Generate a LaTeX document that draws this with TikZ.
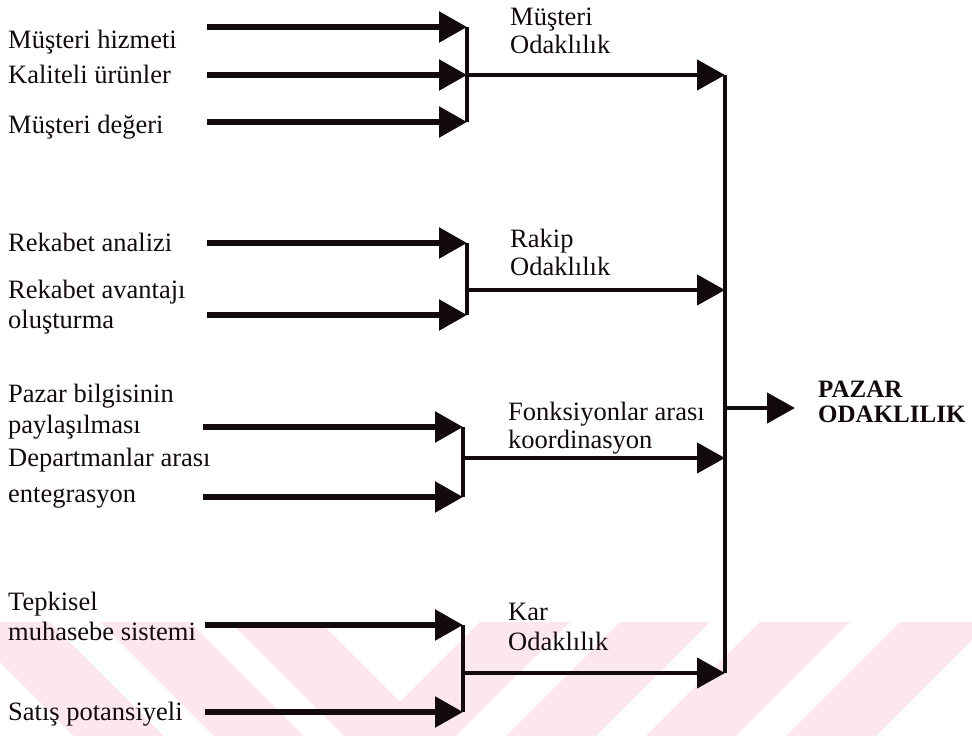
\documentclass[tikz,border=0pt]{standalone}
\usepackage{fontspec}
\setmainfont{Liberation Serif}
\usetikzlibrary{arrows.meta}
\definecolor{ink}{HTML}{120A0C}
\definecolor{wmpink}{HTML}{FCE8EC}
\begin{document}
\begin{tikzpicture}[x=1pt,y=-1pt,
  lbl/.style={anchor=base west, inner sep=0pt, text=ink, font=\fontsize{26.5}{30}\selectfont},
  goal/.style={anchor=base west, inner sep=0pt, text=ink, font=\fontsize{25}{30}\selectfont\bfseries},
  feed/.style={draw=ink, line width=5.5pt, -{Triangle[length=28pt,width=30pt]}},
  outarrow/.style={draw=ink, line width=4.5pt, -{Triangle[length=28pt,width=30pt]}},
  joinbar/.style={draw=ink, line width=4.5pt}]
\useasboundingbox (0,0) rectangle (972,736);

% pale background stripes along the lower edge
\begin{scope}
  \clip (0,622) rectangle (972,736);
  \foreach \t in {-40,100,230} {
    \fill[wmpink] (\t,622) -- (\t+90,622) -- (\t+204,736) -- (\t+114,736) -- cycle;
  }
  \foreach \t in {480,620,760,900} {
    \fill[wmpink] (\t,622) -- (\t+90,622) -- (\t-24,736) -- (\t-114,736) -- cycle;
  }
\end{scope}

% ---------- junction points ----------
\coordinate (g1a) at (467,27);  \coordinate (g1b) at (467,75);  \coordinate (g1c) at (467,122);
\coordinate (g2a) at (467,243); \coordinate (g2m) at (467,290); \coordinate (g2b) at (467,315);
\coordinate (g3a) at (463,427); \coordinate (g3m) at (463,458); \coordinate (g3b) at (463,497);
\coordinate (g4a) at (463,625); \coordinate (g4m) at (463,673); \coordinate (g4b) at (463,712);

\coordinate (s1a) at (207,27);  \coordinate (s1b) at (207,75);  \coordinate (s1c) at (207,122);
\coordinate (s2a) at (207,243); \coordinate (s2b) at (207,315);
\coordinate (s3a) at (203,427); \coordinate (s3b) at (203,497);
\coordinate (s4a) at (205,625); \coordinate (s4b) at (205,712);

\coordinate (m1) at (725,75);
\coordinate (m2) at (725,290);
\coordinate (m3) at (725,458);
\coordinate (m4) at (725,673);
\coordinate (mp) at (725,408);
\coordinate (tp) at (795,408);

% ---------- input labels ----------
\node[lbl] (i1a) at (8,48)  {Müşteri hizmeti};
\node[lbl] (i1b) at (8,83)  {Kaliteli ürünler};
\node[lbl] (i1c) at (8,133) {Müşteri değeri};

\node[lbl] (i2a) at (8,251) {Rekabet analizi};
\node[lbl] (i2b) at (8,298) {Rekabet avantajı};
\node[lbl] (i2c) at (8,328) {oluşturma};

\node[lbl] (i3a) at (8,402) {Pazar bilgisinin};
\node[lbl] (i3b) at (8,433) {paylaşılması};
\node[lbl] (i3c) at (8,466) {Departmanlar arası};
\node[lbl] (i3d) at (8,502) {entegrasyon};

\node[lbl] (i4a) at (8,610) {Tepkisel};
\node[lbl] (i4b) at (8,640) {muhasebe sistemi};
\node[lbl] (i4c) at (8,720) {Satış potansiyeli};

% ---------- intermediate labels ----------
\node[lbl] (o1a) at (510,25)  {Müşteri};
\node[lbl] (o1b) at (510,53)  {Odaklılık};
\node[lbl] (o2a) at (510,247) {Rakip};
\node[lbl] (o2b) at (510,275) {Odaklılık};
\node[lbl] (o3a) at (508,420) {Fonksiyonlar arası};
\node[lbl] (o3b) at (508,448) {koordinasyon};
\node[lbl] (o4a) at (508,620) {Kar};
\node[lbl] (o4b) at (508,650) {Odaklılık};

% ---------- result ----------
\node[goal] (r1) at (818,397) {PAZAR};
\node[goal] (r2) at (818,422) {ODAKLILIK};

% ---------- feeding arrows and joins ----------
\draw[feed] (s1a) -- (g1a);
\draw[feed] (s1b) -- (g1b);
\draw[feed] (s1c) -- (g1c);
\draw[joinbar] (g1a) -- (g1c);
\draw[outarrow] (g1b) -- (m1);

\draw[feed] (s2a) -- (g2a);
\draw[feed] (s2b) -- (g2b);
\draw[joinbar] (g2a) -- (g2b);
\draw[outarrow] (g2m) -- (m2);

\draw[feed] (s3a) -- (g3a);
\draw[feed] (s3b) -- (g3b);
\draw[joinbar] (g3a) -- (g3b);
\draw[outarrow] (g3m) -- (m3);

\draw[feed] (s4a) -- (g4a);
\draw[feed] (s4b) -- (g4b);
\draw[joinbar] (g4a) -- (g4b);
\draw[outarrow] (g4m) -- (m4);

\draw[joinbar] (m1) -- (m4);
\draw[outarrow] (mp) -- (tp);
\end{tikzpicture}
\end{document}
